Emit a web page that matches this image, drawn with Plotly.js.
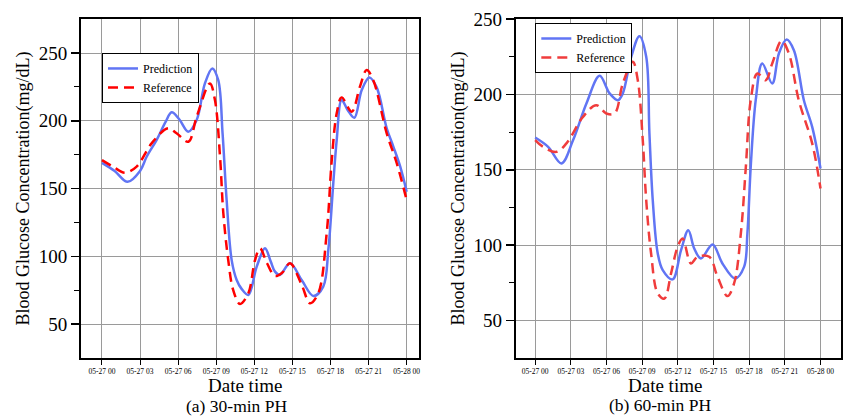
<!DOCTYPE html>
<html>
<head>
<meta charset="utf-8">
<script src="https://cdn.plot.ly/plotly-3.0.1.min.js"></script>
<style>html,body{margin:0;padding:0;background:#fff;}#chart{width:843px;height:417px;}</style>
</head>
<body>
<div id="chart"></div>
<script>
// Hours after 05-27 00:00 and glucose values (mg/dL)
const predHoursA = [0, 1.0, 2.02, 3.0, 3.52, 4.3, 5.0, 5.49, 6.1, 6.8, 7.46, 8.11, 8.69, 9.16, 9.5, 9.82, 10.22, 10.61, 11.0, 11.53, 12.19, 12.84, 13.3, 13.63, 14.02, 14.81, 15.73, 16.65, 17.43, 17.83, 18.22, 18.49, 18.88, 19.35, 19.88, 20.46, 21.06, 21.64, 22.43, 22.95, 23.5, 24];
const predValsA  = [169, 163, 155, 163, 173.5, 185.8, 199, 206.3, 201, 192, 200.6, 227.6, 238.7, 230, 190.8, 141.6, 97, 82.6, 76, 71.5, 92.4, 106, 96, 88.7, 86.3, 94.9, 82.6, 70.8, 77.7, 104.7, 153.9, 185.8, 215.3, 208, 202.3, 222.7, 232, 224.7, 194.5, 181, 166, 147.7];
const refHoursA  = [0, 0.9, 1.81, 2.73, 3.91, 5.22, 5.88, 6.8, 7.46, 8.5, 8.9, 9.3, 9.56, 9.95, 10.34, 10.87, 11.53, 12.05, 12.45, 13.0, 13.63, 14.2, 14.81, 15.73, 16.39, 17.04, 17.7, 18.1, 18.49, 18.88, 19.67, 20.32, 20.85, 21.37, 22.43, 23.22, 24];
const refValsA   = [171, 166, 161.7, 166.2, 183.4, 194.5, 190.8, 184.6, 203, 227.6, 215.3, 173.5, 131.8, 97, 75, 64.9, 72.8, 97, 106, 94.9, 85.5, 88, 94.9, 79, 65.4, 72.8, 117, 171, 205.5, 217.3, 206.7, 225.2, 237.5, 230, 190.8, 168.7, 141.6];

const predHoursB = [0, 1.09, 2.21, 3.19, 4.31, 5.42, 6.26, 6.96, 7.37, 8.08, 8.77, 9.34, 9.61, 9.89, 10.31, 10.73, 11.56, 12.27, 12.88, 13.38, 13.94, 14.92, 15.75, 16.82, 17.57, 17.85, 18.13, 18.55, 19.1, 19.94, 20.5, 21.15, 21.76, 22.6, 23.3, 24];
const predValsB  = [171.4, 165.2, 154.2, 169.7, 194, 212.4, 200.7, 196.2, 200.7, 225, 238.7, 225, 174.1, 129.8, 94.4, 83.3, 77.2, 96.6, 109.9, 97.7, 91.1, 100.4, 87.8, 77.8, 85.5, 107.7, 151.9, 196.2, 220.6, 207.3, 227.2, 236.5, 229.4, 196.2, 178.5, 150.9];
const refHoursB  = [0, 0.67, 1.79, 2.63, 4.02, 5.14, 5.98, 6.68, 7.37, 8.21, 8.63, 9.05, 9.34, 9.75, 10.31, 10.87, 11.43, 11.98, 12.4, 13.1, 13.66, 14.64, 15.34, 16.17, 16.73, 17.3, 17.72, 18.13, 18.69, 19.39, 19.94, 20.73, 21.34, 22.17, 23.3, 24];
const refValsB   = [169.7, 165.2, 161.9, 167.5, 185.1, 192.9, 187.4, 187.4, 207.3, 221.7, 209.5, 169.7, 129.8, 94.4, 67.9, 64.5, 81.2, 98.8, 104.4, 87.8, 92.2, 92.2, 78.9, 66.1, 74.5, 107.7, 151.9, 196.2, 213.9, 209.5, 220.6, 235.6, 227.2, 196.2, 167.5, 137.6];

const seriesNames = ['Prediction', 'Reference'];
const startDate = Date.UTC(2020, 4, 27, 0, 0, 0);
function toDates(hours) {
  return hours.map(h => {
    const d = new Date(startDate + h * 3600000);
    return d.toISOString().replace('T', ' ').slice(0, 19);
  });
}
function hourDate(h) { return toDates([h])[0]; }

const predColor = '#6175F4';
const serif = 'Liberation Serif';

const traces = [
  {x: toDates(predHoursA), y: predValsA, name: seriesNames[0], type: 'scatter', mode: 'lines',
   line: {color: predColor, width: 2.5, shape: 'spline', smoothing: 1}, xaxis: 'x', yaxis: 'y', legend: 'legend'},
  {x: toDates(refHoursA), y: refValsA, name: seriesNames[1], type: 'scatter', mode: 'lines',
   line: {color: '#FF0000', width: 2.5, dash: '10px,6px', shape: 'spline', smoothing: 1}, xaxis: 'x', yaxis: 'y', legend: 'legend'},
  {x: toDates(predHoursB), y: predValsB, name: seriesNames[0], type: 'scatter', mode: 'lines',
   line: {color: predColor, width: 2.5, shape: 'spline', smoothing: 1}, xaxis: 'x2', yaxis: 'y2', legend: 'legend2'},
  {x: toDates(refHoursB), y: refValsB, name: seriesNames[1], type: 'scatter', mode: 'lines',
   line: {color: '#F03C3C', width: 2.5, dash: '10px,6px', shape: 'spline', smoothing: 1}, xaxis: 'x2', yaxis: 'y2', legend: 'legend2'}
];

function xAxis(domain, range, anchor) {
  return {
    domain: domain, anchor: anchor, type: 'date', range: range,
    tickformat: '%m-%d %H', dtick: 10800000, tick0: hourDate(0),
    showgrid: true, gridcolor: '#9a9a9a', gridwidth: 1,
    showline: true, mirror: true, linecolor: '#000', linewidth: 2,
    ticks: 'outside', ticklen: 5, tickwidth: 1, tickcolor: '#000',
    tickfont: {family: serif, size: 7.5, color: '#000'}, zeroline: false
  };
}
function yAxis(domain, range, anchor) {
  return {
    domain: domain, anchor: anchor, range: range, tickvals: [50, 100, 150, 200, 250],
    showgrid: true, gridcolor: '#9a9a9a', gridwidth: 1,
    showline: true, mirror: true, linecolor: '#000', linewidth: 2,
    ticks: 'outside', ticklen: 8, tickwidth: 1.5, tickcolor: '#000',
    minor: {tickvals: [75, 125, 175, 225], ticks: 'outside', ticklen: 5, tickwidth: 1, tickcolor: '#000', showgrid: false},
    tickfont: {family: serif, size: 19, color: '#000'}, zeroline: false,
    title: {text: 'Blood Glucose Concentration(mg/dL)', font: {family: serif, size: 18, color: '#000'}, standoff: 4}
  };
}

const legendBase = {
  bgcolor: '#fff', bordercolor: '#000', borderwidth: 1,
  font: {family: serif, size: 12, color: '#000'},
  xanchor: 'left', yanchor: 'top', tracegroupgap: 0, itemwidth: 30
};

const layout = {
  width: 843, height: 417,
  margin: {l: 0, r: 0, t: 0, b: 0},
  paper_bgcolor: '#fff', plot_bgcolor: '#fff',
  font: {family: serif},
  showlegend: true,
  xaxis: xAxis([0.0961, 0.497], [hourDate(-1.65), hourDate(24.97)], 'y'),
  yaxis: yAxis([0.1415, 0.954], [25, 275], 'x'),
  xaxis2: xAxis([0.612, 0.998], [hourDate(-1.62), hourDate(25.75)], 'y2'),
  yaxis2: yAxis([0.1415, 0.954], [25, 250], 'x2'),
  legend: Object.assign({}, legendBase, {x: 0.121, y: 0.873}),
  legend2: Object.assign({}, legendBase, {x: 0.635, y: 0.945}),
  annotations: [
    {text: 'Date time', xref: 'paper', yref: 'paper', x: 245 / 843, y: 1 - 385 / 417, xanchor: 'center', yanchor: 'middle', showarrow: false, font: {family: serif, size: 19, color: '#000'}},
    {text: '(a) 30-min PH', xref: 'paper', yref: 'paper', x: 237 / 843, y: 1 - 406 / 417, xanchor: 'center', yanchor: 'middle', showarrow: false, font: {family: serif, size: 17.5, color: '#000'}},
    {text: 'Date time', xref: 'paper', yref: 'paper', x: 665 / 843, y: 1 - 385 / 417, xanchor: 'center', yanchor: 'middle', showarrow: false, font: {family: serif, size: 19, color: '#000'}},
    {text: '(b) 60-min PH', xref: 'paper', yref: 'paper', x: 660 / 843, y: 1 - 405 / 417, xanchor: 'center', yanchor: 'middle', showarrow: false, font: {family: serif, size: 17.5, color: '#000'}}
  ]
};

Plotly.newPlot('chart', traces, layout, {displayModeBar: false, staticPlot: true});
</script>
</body>
</html>
